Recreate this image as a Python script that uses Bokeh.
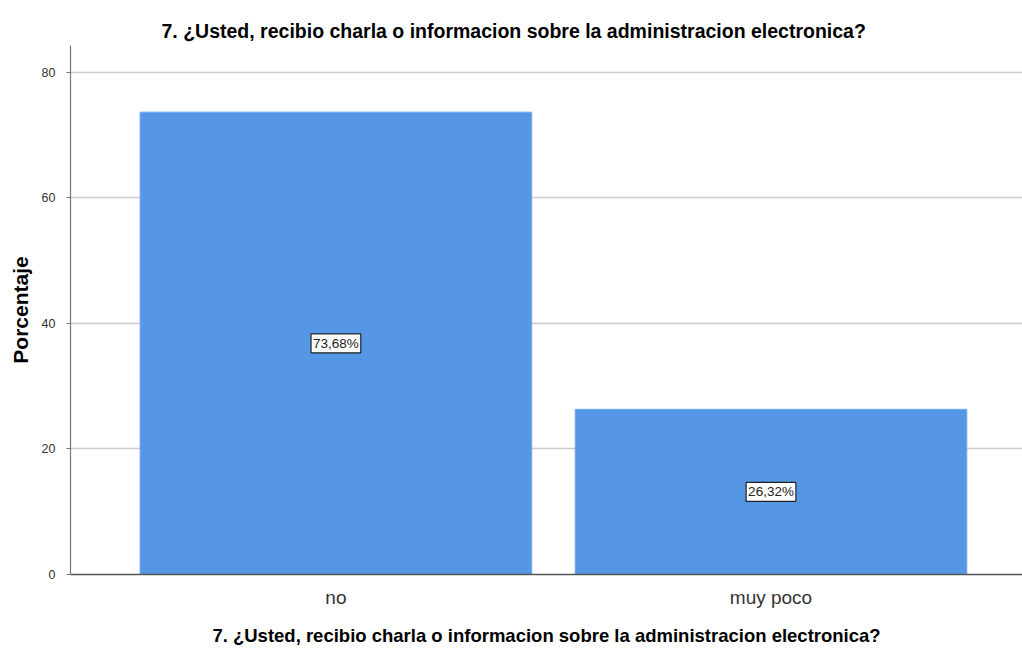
from bokeh.plotting import figure
from bokeh.models import ColumnDataSource, Label, FixedTicker, Range1d
from bokeh.embed import file_html
from bokeh.resources import INLINE

categories = ["no", "muy poco"]
percent = [73.68, 26.32]
labels = ["73,68%", "26,32%"]
y_ticks = [0, 20, 40, 60, 80]
title_text = "7. ¿Usted, recibio charla o informacion sobre la administracion electronica?"

xs = list(range(len(categories)))
src = ColumnDataSource(dict(x=xs, top=percent))

FONT = "Liberation Sans"

p = figure(width=1022, height=648, output_backend="svg", toolbar_location=None,
           x_range=Range1d(-0.61, 1.578), y_range=Range1d(0, 84.3),
           min_border_left=70, min_border_right=0, min_border_top=45, min_border_bottom=0)
p.outline_line_color = None
p.background_fill_color = "white"
p.border_fill_color = "white"

p.title.text = title_text
p.title.align = "left"
p.title.text_font = FONT
p.title.text_font_size = "19.5px"
p.title.text_font_style = "bold"
p.title.text_color = "black"
p.title.offset = 91
p.title.standoff = 8

p.vbar(x="x", top="top", width=0.9, source=src, fill_color="#5596e5", line_color="#6ea6ec", line_width=1)

for xi, v, lab in zip(xs, percent, labels):
    p.add_layout(Label(x=xi, y=v / 2, text=lab, text_align="center", text_baseline="middle",
                       text_font=FONT, text_font_size="13.5px", text_color="#222222",
                       background_fill_color="white", border_line_color="#222222", border_line_width=1.2,
                       padding=2))

p.xaxis.ticker = FixedTicker(ticks=xs)
p.xaxis.major_label_overrides = {i: c for i, c in zip(xs, categories)}
p.xaxis.major_tick_line_color = None
p.xaxis.major_tick_out = 0
p.xaxis.major_tick_in = 0
p.xaxis.minor_tick_line_color = None
p.xaxis.axis_line_color = "#555555"
p.xaxis.axis_line_width = 1.5
p.xaxis.major_label_text_font = FONT
p.xaxis.major_label_text_font_size = "19px"
p.xaxis.major_label_text_color = "#333333"
p.xaxis.major_label_standoff = 12
p.xaxis.axis_label = title_text
p.xaxis.axis_label_text_font = FONT
p.xaxis.axis_label_text_font_size = "18.5px"
p.xaxis.axis_label_text_font_style = "bold"
p.xaxis.axis_label_text_color = "black"
p.xaxis.axis_label_standoff = 14

p.yaxis.ticker = FixedTicker(ticks=y_ticks)
p.yaxis.minor_tick_line_color = None
p.yaxis.major_tick_in = 0
p.yaxis.major_tick_out = 4
p.yaxis.major_tick_line_color = "#777777"
p.yaxis.axis_line_color = "#777777"
p.yaxis.axis_line_width = 1.2
p.yaxis.major_label_text_font = FONT
p.yaxis.major_label_text_font_size = "12.5px"
p.yaxis.major_label_text_color = "#333333"
p.yaxis.major_label_standoff = 11
p.yaxis.axis_label = "Porcentaje"
p.yaxis.axis_label_text_font = FONT
p.yaxis.axis_label_text_font_size = "21px"
p.yaxis.axis_label_text_font_style = "bold"
p.yaxis.axis_label_text_color = "black"
p.yaxis.axis_label_standoff = 7

p.xgrid.grid_line_color = None
p.ygrid.ticker = FixedTicker(ticks=[20, 40, 60, 80])
p.ygrid.grid_line_color = "#cccccc"
p.ygrid.grid_line_width = 1.5

open("out.html", "w").write(file_html(p, INLINE))
